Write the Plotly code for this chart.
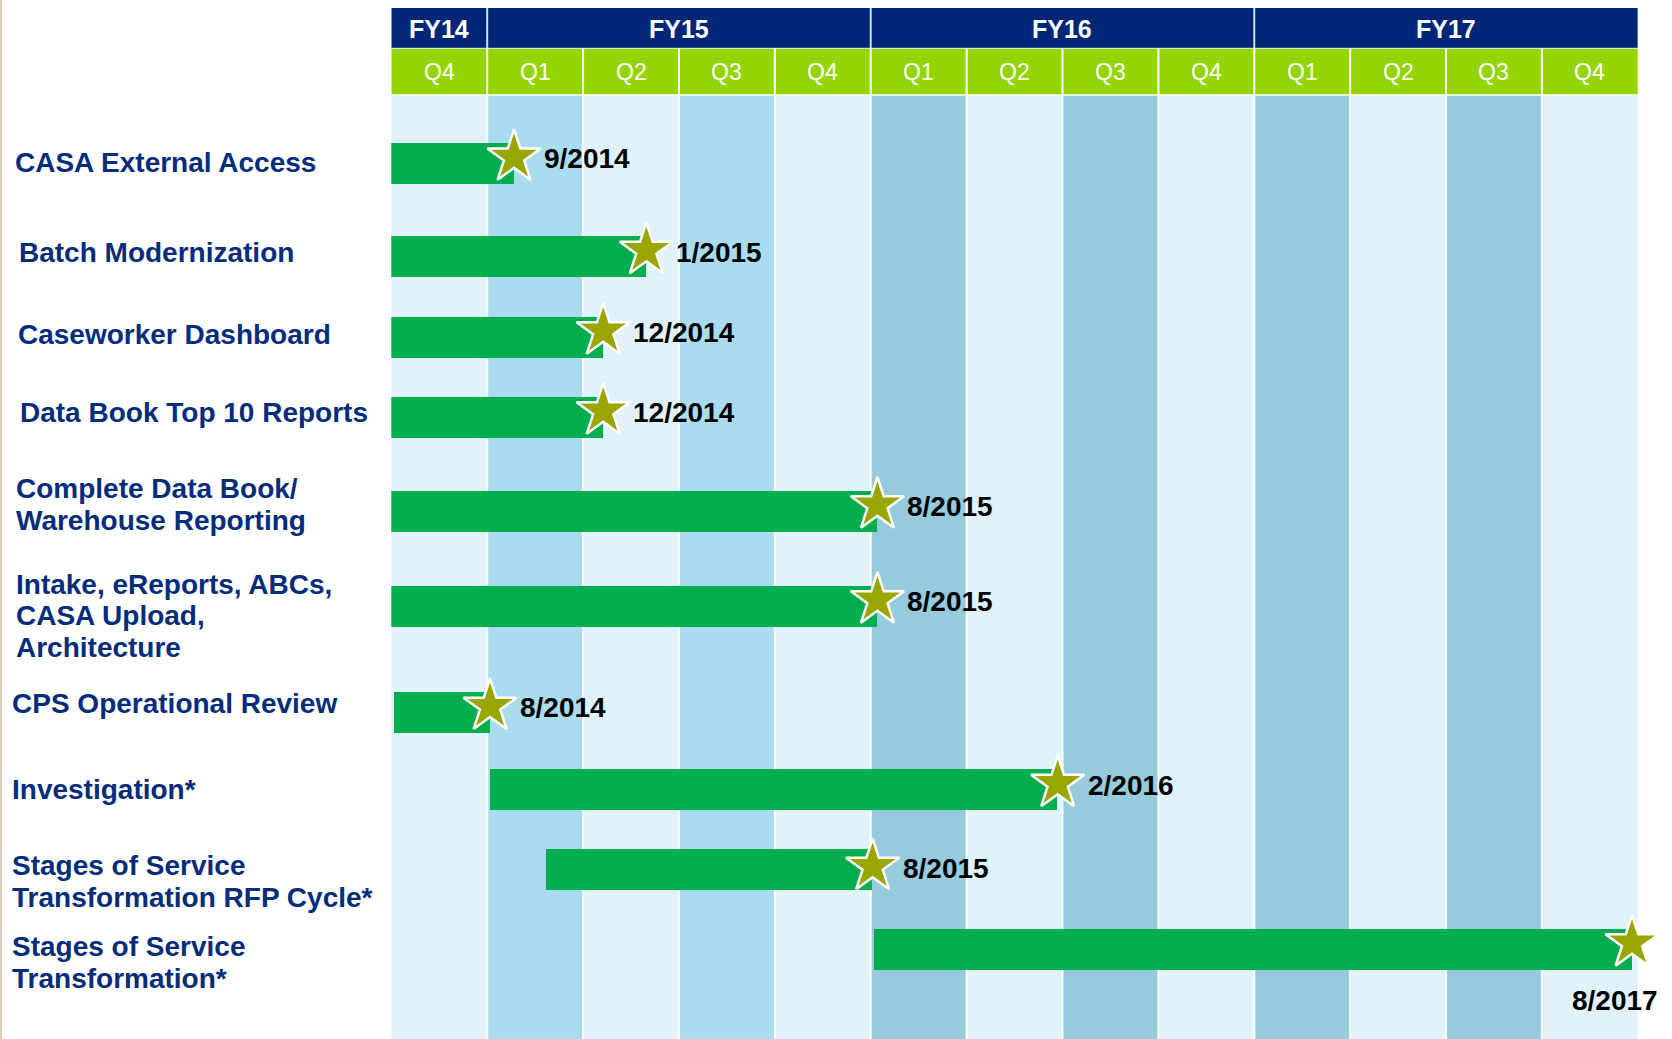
import plotly.graph_objects as go

# ---------------- data ----------------
tasks = [
    "CASA External Access",
    "Batch Modernization",
    "Caseworker Dashboard",
    "Data Book Top 10 Reports",
    "Complete Data Book/<br>Warehouse Reporting",
    "Intake, eReports, ABCs,<br>CASA Upload,<br>Architecture",
    "CPS Operational Review",
    "Investigation*",
    "Stages of Service<br>Transformation RFP Cycle*",
    "Stages of Service<br>Transformation*",
]
# positions in quarters counted from the start of FY14 Q4
start_q = [0.0, 0.0, 0.0, 0.0, 0.0, 0.0, 0.03, 1.03, 1.62, 5.04]
end_q = [1.28, 2.66, 2.21, 2.21, 5.07, 5.07, 1.03, 6.95, 5.02, 12.94]
milestones = ["9/2014", "1/2015", "12/2014", "12/2014", "8/2015",
              "8/2015", "8/2014", "2/2016", "8/2015", "8/2017"]
fiscal_years = ["FY14", "FY15", "FY16", "FY17"]
fy_quarter_counts = [1, 4, 4, 4]
quarters = ["Q4", "Q1", "Q2", "Q3", "Q4", "Q1", "Q2", "Q3", "Q4",
            "Q1", "Q2", "Q3", "Q4"]

# ---------------- layout / style ----------------
W, H = 1672, 1039
X0, X1 = 391.3, 1637.8          # plot area left/right in px
ROW_Y = [163.2, 256.5, 337.0, 417.0, 511.0, 606.0, 712.3, 789.5, 869.5, 949.0]
STAR_DY = [-6, -6, -6, -6, -6, -6, -6, -6, -3, -6]
LABEL_X = [13, 17, 16, 18, 14, 14, 9.5, 9.5, 9.5, 9.5]
LABEL_Y = [162.0, 252.5, 334.8, 412.7, 488.6, 584.3, 703.7, 789.3, 865.8, 946.7]
LINE_GAP = 31.5
LABEL_BELOW = [False] * 9 + [True]
FY_TOP, FY_BOT, Q_BOT = 8.0, 48.3, 95.0

NAVY = "#002777"
LIME = "#94d500"
LIGHT = "#e1f3fa"
MED = "#aadcf0"
DARK = "#95cbdd"
BAR = "#00ae50"
STAR = "#99a600"
TXT = "#032c7c"
FONT = "Liberation Sans, Arial, sans-serif"

nq = len(quarters)
fig = go.Figure()

shapes = []
# body columns
for i in range(nq):
    if i % 2 == 1:
        col = MED if i < 5 else DARK
    else:
        col = LIGHT
    shapes.append(dict(type="rect", xref="x", yref="y", x0=i, x1=i + 1,
                       y0=Q_BOT, y1=H, fillcolor=col, line_width=0, layer="below"))
# header rows
shapes.append(dict(type="rect", xref="x", yref="y", x0=0, x1=nq, y0=FY_TOP, y1=FY_BOT,
                   fillcolor=NAVY, line_width=0, layer="below"))
shapes.append(dict(type="rect", xref="x", yref="y", x0=0, x1=nq, y0=FY_BOT, y1=Q_BOT,
                   fillcolor=LIME, line_width=0, layer="below"))
# separators
for i in range(1, nq):
    shapes.append(dict(type="line", xref="x", yref="y", x0=i, x1=i, y0=FY_BOT, y1=H,
                       line=dict(color="white", width=2), layer="below"))
edge = 0
for c in fy_quarter_counts[:-1]:
    edge += c
    shapes.append(dict(type="line", xref="x", yref="y", x0=edge, x1=edge, y0=FY_TOP, y1=FY_BOT,
                       line=dict(color="#d4dbe8", width=2), layer="below"))
shapes.append(dict(type="line", xref="x", yref="y", x0=0, x1=nq, y0=FY_BOT, y1=FY_BOT,
                   line=dict(color="#e8f0d8", width=1), layer="below"))
shapes.append(dict(type="line", xref="x", yref="y", x0=0, x1=nq, y0=Q_BOT, y1=Q_BOT,
                   line=dict(color="white", width=1.5), layer="below"))
# thin tan border at the very left of the page
shapes.append(dict(type="rect", xref="paper", yref="paper", x0=0, x1=2 / W, y0=0, y1=1,
                   fillcolor="#dccbb8", line_width=0, layer="below"))

# bars
fig.add_trace(go.Bar(
    y=ROW_Y, x=[e - s for s, e in zip(start_q, end_q)], base=start_q,
    orientation="h", width=41, marker=dict(color=BAR, line_width=0),
    hoverinfo="skip", showlegend=False))

# stars
star_y = [y + d for y, d in zip(ROW_Y, STAR_DY)]
fig.add_trace(go.Scatter(
    x=end_q, y=star_y, mode="markers",
    marker=dict(symbol="star", size=40, color=STAR, line=dict(color="white", width=2.5)),
    cliponaxis=False, hoverinfo="skip", showlegend=False))

annotations = []
# header labels
edge = 0
for fy, c in zip(fiscal_years, fy_quarter_counts):
    annotations.append(dict(x=edge + c / 2, y=(FY_TOP + FY_BOT) / 2 + 1, xref="x", yref="y",
                            text="<b>%s</b>" % fy, showarrow=False,
                            font=dict(family=FONT, size=25, color="white")))
    edge += c
for i, q in enumerate(quarters):
    annotations.append(dict(x=i + 0.5, y=(FY_BOT + Q_BOT) / 2, xref="x", yref="y",
                            text=q, showarrow=False,
                            font=dict(family=FONT, size=23, color="white")))

# milestone date labels
for e, y, sy, m, below in zip(end_q, ROW_Y, star_y, milestones, LABEL_BELOW):
    if below:
        annotations.append(dict(x=e, y=y + 51, xref="x", yref="y", text="<b>%s</b>" % m,
                                showarrow=False, xanchor="center", xshift=-17,
                                font=dict(family=FONT, size=28, color="#000000")))
    else:
        annotations.append(dict(x=e, y=sy + 1.5, xref="x", yref="y",
                                text="<b>%s</b>" % m, showarrow=False,
                                xanchor="left", xshift=28,
                                font=dict(family=FONT, size=28, color="#000000")))

# task labels (one annotation per line)
for t, lx, ly in zip(tasks, LABEL_X, LABEL_Y):
    for k, line in enumerate(t.split("<br>")):
        annotations.append(dict(x=lx / W, y=ly + k * LINE_GAP, xref="paper", yref="y",
                                text="<b>%s</b>" % line, showarrow=False,
                                xanchor="left", yanchor="middle",
                                font=dict(family=FONT, size=28, color=TXT)))

fig.update_layout(
    width=W, height=H,
    margin=dict(l=0, r=0, t=0, b=0),
    paper_bgcolor="white", plot_bgcolor="rgba(0,0,0,0)",
    xaxis=dict(range=[0, nq], domain=[X0 / W, X1 / W], visible=False, fixedrange=True),
    yaxis=dict(range=[H, 0], domain=[0, 1], visible=False, fixedrange=True),
    shapes=shapes, annotations=annotations,
    bargap=0, showlegend=False,
)

fig.write_html("out.html", config={"displayModeBar": False},
               post_script="document.body.style.margin='0';document.body.style.overflow='hidden';")
